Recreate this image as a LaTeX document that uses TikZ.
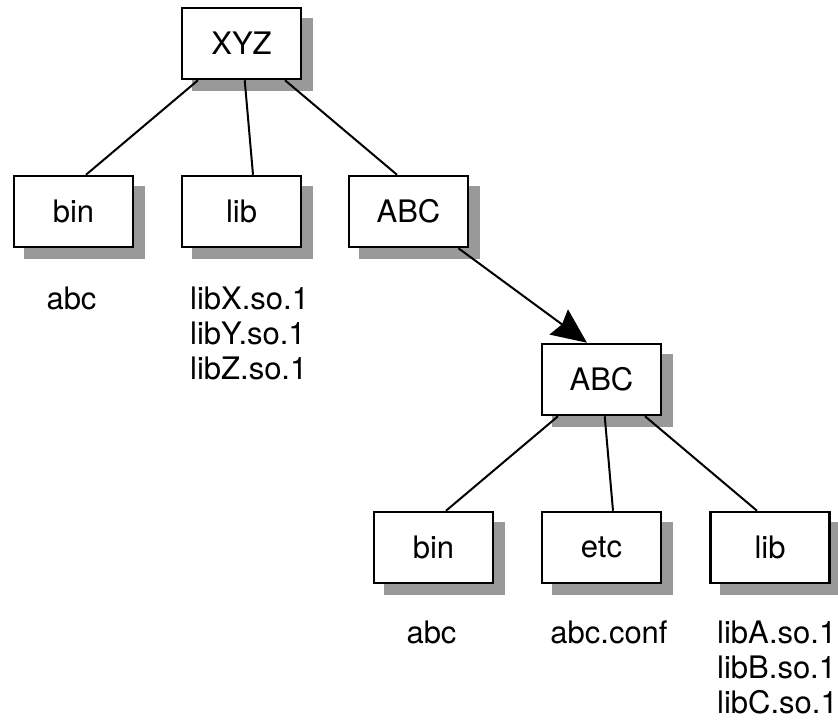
\documentclass[tikz,border=0pt]{standalone}
\usepackage{fontspec}
\setmainfont{TeX Gyre Heros}
\usetikzlibrary{shadows,arrows.meta}
\begin{document}
\begin{tikzpicture}[x=1pt,y=-1pt,
  font=\fontsize{31}{35}\selectfont,
  box/.style={draw, line width=2.5pt, fill=white, minimum width=119pt,
    minimum height=71pt, inner sep=0pt,
    drop shadow={shadow xshift=11pt, shadow yshift=-11pt, fill=black!40, draw=black!40, line width=2.5pt, opacity=1}},
  link/.style={line width=2pt},
  files/.style={inner sep=0pt, align=left}
]
\useasboundingbox (0,0) rectangle (838,721);

\node[box] (xyz) at (241.5,43.5) {XYZ};
\node[box] (bin) at (73.5,211.5) {bin};
\node[box] (lib) at (241.5,211.5) {lib};
\node[box] (abc) at (408.5,211.5) {ABC};
\node[box] (abc2) at (601.5,379.5) {ABC};
\node[box] (bin2) at (433.5,547.5) {bin};
\node[box] (etc) at (601.5,547.5) {etc};
\node[box] (lib2) at (770,547.5) {lib};

\node[files, anchor=north] (binf) at (71.5,287) {abc};
\node[files, anchor=north west] (libf) at (190,287) {libX.so.1\\libY.so.1\\libZ.so.1};
\node[files, anchor=north] (bin2f) at (431.5,621) {abc};
\node[files, anchor=north] (etcf) at (609,621) {abc.conf};
\node[files, anchor=north west] (lib2f) at (717,621) {libA.so.1\\libB.so.1\\libC.so.1};

\draw[link] (xyz) -- ([xshift=12.5pt]bin.north);
\draw[link] (xyz) -- ([xshift=11.5pt]lib.north);
\draw[link] (xyz) -- ([xshift=-11.5pt]abc.north);
\draw[link] (abc2) -- ([xshift=12.5pt]bin2.north);
\draw[link] (abc2) -- ([xshift=11.5pt]etc.north);
\draw[link] (abc2) -- ([xshift=-13pt]lib2.north);
\draw[link, -{Stealth[length=35pt,width=31pt,inset=4pt]}] (abc) -- ([xshift=-14.5pt]abc2.north);
\end{tikzpicture}
\end{document}
